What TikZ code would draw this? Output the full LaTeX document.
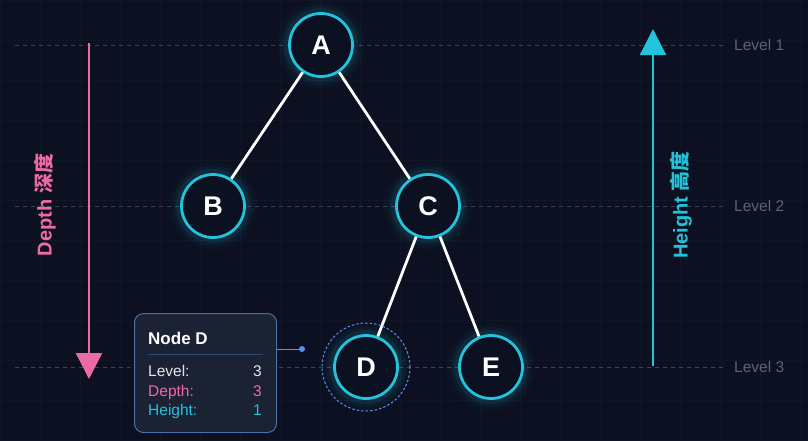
\documentclass[tikz,border=0pt]{standalone}
\usepackage{fontspec}
\setmainfont{Liberation Sans}
\newfontfamily\cjk{Noto Sans CJK SC}
\usetikzlibrary{arrows.meta}
\definecolor{bgcol}{HTML}{0C1020}
\definecolor{gridcol}{HTML}{111627}
\definecolor{cyancol}{HTML}{22C3DB}
\definecolor{pinkcol}{HTML}{EE6AA7}
\definecolor{levelcol}{HTML}{5C6373}
\definecolor{dashcol}{HTML}{3C4354}
\definecolor{boxfill}{HTML}{1A2234}
\definecolor{boxline}{HTML}{4B6FA8}
\definecolor{dotcol}{HTML}{5B8DEF}
\definecolor{nodefill}{HTML}{0B1120}
\tikzset{
  treenode/.style={circle, draw=cyancol, line width=2.8pt, fill=nodefill,
    minimum size=63pt, inner sep=0pt, text=white, font=\bfseries\fontsize{27}{27}\selectfont},
  edge/.style={draw=white, line width=2.8pt},
  levelline/.style={draw=dashcol, line width=0.8pt, dash pattern=on 4pt off 4pt},
  leveltext/.style={anchor=west, text=levelcol, font=\fontsize{15.5}{15.5}\selectfont, inner sep=0pt},
  infotext/.style={anchor=base west, inner sep=0pt, font=\fontsize{15.5}{15.5}\selectfont},
  infoval/.style={anchor=base east, inner sep=0pt, font=\fontsize{15.5}{15.5}\selectfont}
}
\begin{document}
\begin{tikzpicture}[x=1pt, y=-1pt]
  % background and faint grid
  \fill[bgcol] (0,0) rectangle (808,440);
  \useasboundingbox (0,0) rectangle (808,440);
  \draw[gridcol, line width=0.6pt] (0,0) grid[step=40pt] (808,440);

  % level lines
  \foreach \y/\n in {45/1, 206/2, 367/3} {
    \draw[levelline] (15,\y) -- (725,\y);
    \node[leveltext] (lvl\n) at (734,\y) {Level \n};
  }

  % glow behind nodes
  \foreach \x/\y in {321/45, 213/206, 428/206, 366/367, 491/367} {
    \foreach \r/\o in {44/0.03, 40/0.05, 37/0.08} {
      \fill[cyancol, opacity=\o] (\x,\y) circle[radius=\r pt];
    }
  }

  % tree nodes
  \node[treenode] (A) at (321,45) {A};
  \node[treenode] (B) at (213,206) {B};
  \node[treenode] (C) at (428,206) {C};
  \node[treenode] (D) at (366,367) {D};
  \node[treenode] (E) at (491,367) {E};

  % edges
  \draw[edge] (A) -- (B);
  \draw[edge] (A) -- (C);
  \draw[edge] (C) -- (D);
  \draw[edge] (C) -- (E);

  % selection ring around D
  \draw[dotcol, line width=1pt, dash pattern=on 2.5pt off 2pt] (D.center) circle[radius=44pt];

  % depth arrow
  \coordinate (dtop) at (89,43);
  \coordinate (dbot) at (89,379);
  \draw[pinkcol, line width=2.3pt, -{Triangle[length=26pt, width=26pt]}] (dtop) -- (dbot);
  \node[rotate=90, text=pinkcol, font=\bfseries\fontsize{20}{20}\selectfont] (depthlbl) at (45,205) {Depth {\cjk\bfseries 深度}};

  % height arrow
  \coordinate (hbot) at (653,366);
  \coordinate (htop) at (653,29);
  \draw[cyancol, line width=2.3pt, -{Triangle[length=26pt, width=26pt]}] (hbot) -- (htop);
  \node[rotate=90, text=cyancol, font=\bfseries\fontsize{20}{20}\selectfont] (heightlbl) at (681,205) {Height {\cjk\bfseries 高度}};

  % info box for node D
  \node[draw=boxline, fill=boxfill, rounded corners=9pt, line width=1pt,
        minimum width=142pt, minimum height=119pt, anchor=north west] (info) at (134,313) {};
  \node[anchor=base west, inner sep=0pt, text=white, font=\bfseries\fontsize{17}{17}\selectfont] (infotitle) at (148,344) {Node D};
  \draw[boxline!50!boxfill, line width=0.8pt] (148,354) -- (263,354);
  \node[infotext, text=white!80!gray] (lvlkey) at (148,376) {Level:};
  \node[infoval, text=white!80!gray] (lvlval) at (262,376) {3};
  \node[infotext, text=pinkcol] (depkey) at (148,396) {Depth:};
  \node[infoval, text=pinkcol] (depval) at (262,396) {3};
  \node[infotext, text=cyancol] (heikey) at (148,415) {Height:};
  \node[infoval, text=cyancol] (heival) at (262,415) {1};
  \coordinate (pin) at (302,349);
  \draw[dotcol, line width=1pt] (info.east |- pin) -- (pin);
  \fill[dotcol] (pin) circle[radius=3pt];
\end{tikzpicture}
\end{document}
